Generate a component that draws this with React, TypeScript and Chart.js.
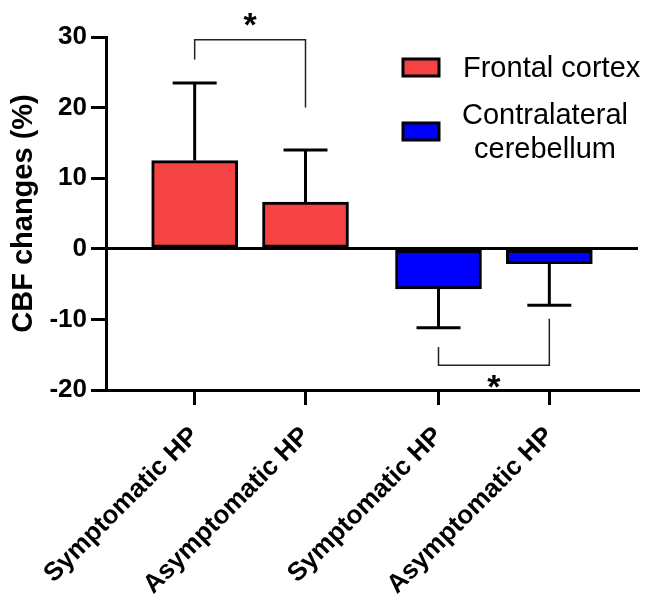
import React, { useEffect, useRef } from "react";
import { Chart, registerables } from "chart.js";

Chart.register(...registerables);

const categories = ["Symptomatic HP", "Asymptomatic HP", "Symptomatic HP", "Asymptomatic HP"];
const categoryX = [1, 2, 3.2, 4.2];

const frontalX = [1, 2];
const frontalMean = [12.5, 6.6];
const frontalSD = [11.0, 7.4];

const cerebX = [3.2, 4.2];
const cerebMean = [-5.7, -2.1];
const cerebSD = [5.5, 5.9];

const seriesLabels = ["Frontal cortex", "Contralateral\ncerebellum"];

const yMin = -20;
const yMax = 30;
const yStep = 10;

// significance brackets: x1, x2, bracket level, drop end at x1, drop end at x2, star level
const brackets = [
  { x1: 1, x2: 2, level: 29.6, end1: 26.8, end2: 20.0, star: 32.3 },
  { x1: 3.2, x2: 4.2, level: -16.5, end1: -13.9, end2: -9.9, star: -18.9 },
];

const FONT = "'Liberation Sans', Arial, Helvetica, sans-serif";
const RED = "#F54343";
const BLUE = "#0000FF";

export default function App() {
  const ref = useRef<HTMLCanvasElement | null>(null);

  useEffect(() => {
    document.body.style.margin = "0";
    const canvas = ref.current;
    if (!canvas) return;

    const sdMap = [frontalSD, cerebSD];

    const errorBars = {
      id: "errorBars",
      afterDatasetsDraw(chart: any) {
        const ctx = chart.ctx;
        const y = chart.scales.y;
        ctx.save();
        ctx.strokeStyle = "#000";
        ctx.lineWidth = 3;
        ctx.lineCap = "butt";
        chart.data.datasets.forEach((ds: any, di: number) => {
          const meta = chart.getDatasetMeta(di);
          meta.data.forEach((el: any, i: number) => {
            const mean = ds.data[i].y;
            const sd = sdMap[di][i];
            const end = mean >= 0 ? mean + sd : mean - sd;
            const y0 = y.getPixelForValue(mean);
            const y1 = y.getPixelForValue(end);
            ctx.beginPath();
            ctx.moveTo(el.x, y0);
            ctx.lineTo(el.x, y1);
            ctx.moveTo(el.x - 22, y1);
            ctx.lineTo(el.x + 22, y1);
            ctx.stroke();
          });
        });
        ctx.restore();
      },
    };

    const annotations = {
      id: "annotations",
      afterDraw(chart: any) {
        const ctx = chart.ctx;
        const xs = chart.scales.x;
        const ys = chart.scales.y;
        ctx.save();
        // brackets
        ctx.strokeStyle = "#222";
        ctx.lineWidth = 1.5;
        brackets.forEach((b) => {
          const px1 = xs.getPixelForValue(b.x1);
          const px2 = xs.getPixelForValue(b.x2);
          const py = ys.getPixelForValue(b.level);
          ctx.beginPath();
          ctx.moveTo(px1, ys.getPixelForValue(b.end1));
          ctx.lineTo(px1, py);
          ctx.lineTo(px2, py);
          ctx.lineTo(px2, ys.getPixelForValue(b.end2));
          ctx.stroke();
          ctx.fillStyle = "#000";
          ctx.font = `bold 34px ${FONT}`;
          ctx.textAlign = "center";
          ctx.textBaseline = "middle";
          ctx.fillText("*", (px1 + px2) / 2, ys.getPixelForValue(b.star) + 6);
        });

        // legend
        const colors = [RED, BLUE];
        const boxes = [
          { bx: 403, by: 59, textBaselines: [77], align: "left", tx: 463 },
          { bx: 403, by: 123, textBaselines: [124, 158], align: "center", tx: 545 },
        ];
        chart.data.datasets.forEach((ds: any, i: number) => {
          const b = boxes[i];
          ctx.fillStyle = colors[i];
          ctx.fillRect(b.bx, b.by, 36, 17);
          ctx.strokeStyle = "#000";
          ctx.lineWidth = 3;
          ctx.strokeRect(b.bx, b.by, 36, 17);
          ctx.fillStyle = "#000";
          ctx.font = `29px ${FONT}`;
          ctx.textAlign = b.align as CanvasTextAlign;
          ctx.textBaseline = "alphabetic";
          const lines = String(ds.label).split("\n");
          lines.forEach((line: string, li: number) => {
            ctx.fillText(line, b.tx, b.textBaselines[li]);
          });
        });
        ctx.restore();
      },
    };

    const chart = new Chart(canvas, {
      type: "bar",
      data: {
        datasets: [
          {
            label: seriesLabels[0],
            data: frontalX.map((x, i) => ({ x, y: frontalMean[i] })),
            backgroundColor: RED,
            borderColor: "#000",
            borderWidth: 3,
            borderSkipped: false,
            barThickness: 86,
            grouped: false,
          } as any,
          {
            label: seriesLabels[1],
            data: cerebX.map((x, i) => ({ x, y: cerebMean[i] })),
            backgroundColor: BLUE,
            borderColor: "#000",
            borderWidth: 3,
            borderSkipped: false,
            barThickness: 86,
            grouped: false,
          } as any,
        ],
      },
      options: {
        animation: false,
        responsive: false,
        maintainAspectRatio: false,
        layout: { padding: { top: 37, right: 8, left: 0, bottom: 0 } },
        plugins: {
          legend: { display: false },
          tooltip: { enabled: false },
        },
        scales: {
          x: {
            type: "linear",
            min: 0.2,
            max: 5.0,
            offset: false,
            grid: {
              offset: false,
              drawOnChartArea: false,
              tickLength: 15,
              tickColor: "#000",
              tickWidth: 3,
              lineWidth: 3,
              color: "#000",
            },
            border: { color: "#000", width: 3 },
            afterBuildTicks: (scale: any) => {
              scale.ticks = categoryX.map((v) => ({ value: v }));
            },
            afterFit: (scale: any) => {
              scale.height = 204;
            },
            ticks: {
              autoSkip: false,
              maxRotation: 45,
              minRotation: 45,
              padding: 16,
              color: "#000",
              font: { family: FONT, size: 26, weight: "bold" },
              callback: (_v: any, i: number) => categories[i],
            },
          } as any,
          y: {
            type: "linear",
            min: yMin,
            max: yMax,
            grid: {
              drawOnChartArea: true,
              tickLength: 15,
              tickColor: "#000",
              tickWidth: 3,
              lineWidth: 3,
              color: (c: any) => (c.tick && c.tick.value === 0 ? "#000" : "rgba(0,0,0,0)"),
            },
            border: { color: "#000", width: 3 },
            afterFit: (scale: any) => {
              scale.width = 106;
            },
            title: {
              display: true,
              text: "CBF changes (%)",
              color: "#000",
              font: { family: FONT, size: 29, weight: "bold" },
              padding: { top: 7, bottom: 0 },
            },
            ticks: {
              stepSize: yStep,
              padding: 4,
              color: "#000",
              font: { family: FONT, size: 26, weight: "bold" },
            },
          } as any,
        },
      },
      plugins: [errorBars, annotations],
    });

    return () => chart.destroy();
  }, []);

  return (
    <div style={{ width: 646, height: 594 }}>
      <canvas ref={ref} width={646} height={594} style={{ width: 646, height: 594, display: "block" }} />
    </div>
  );
}
